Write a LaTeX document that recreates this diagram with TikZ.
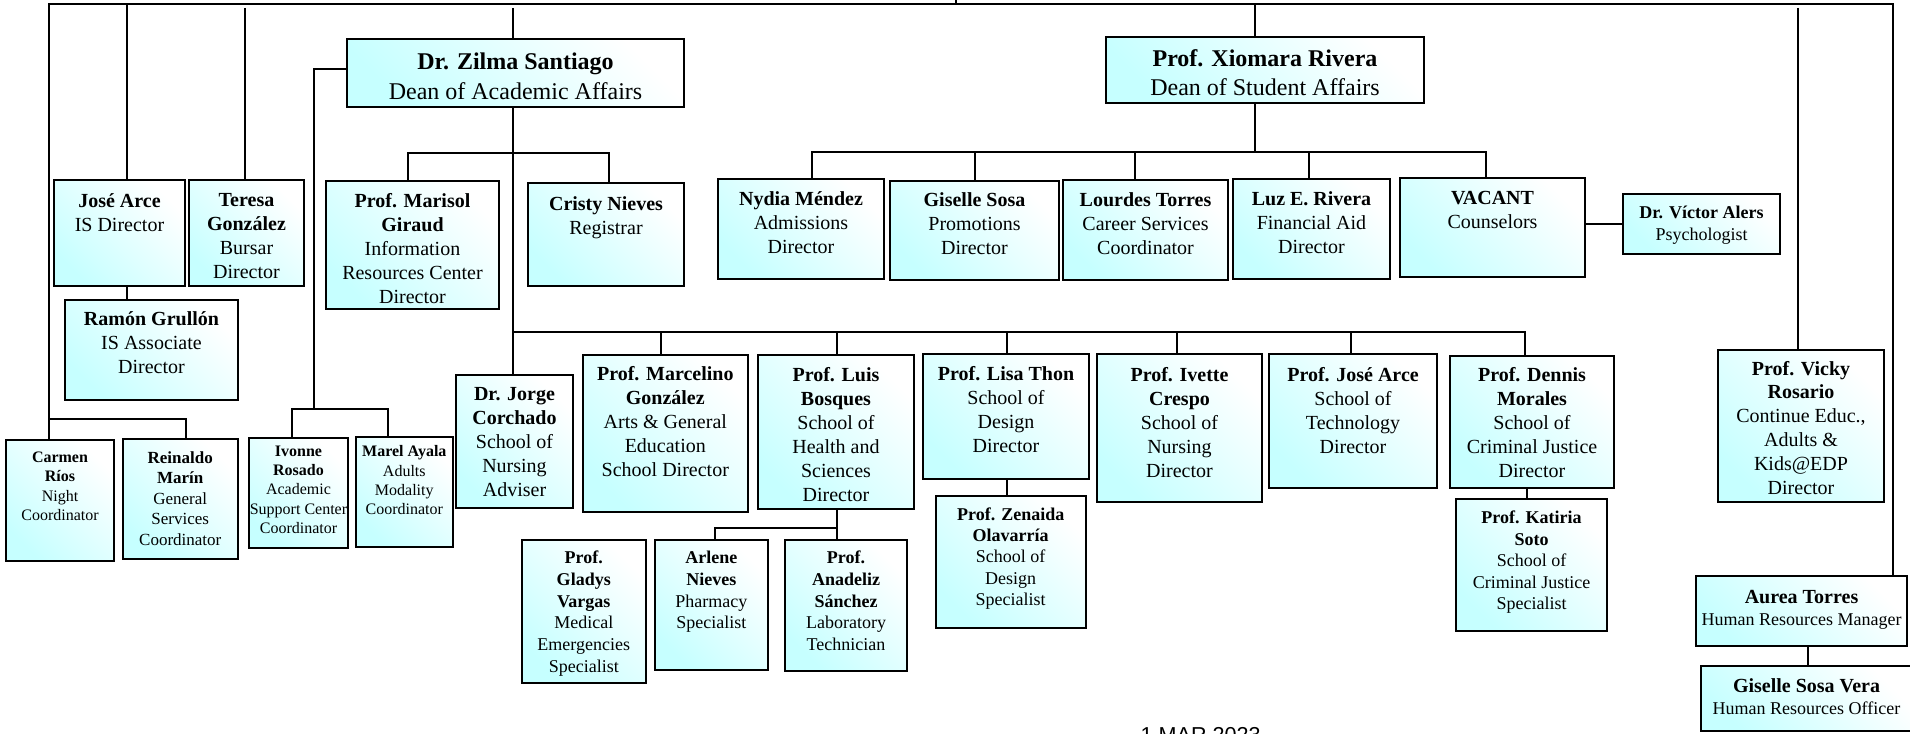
\documentclass[tikz,border=0pt]{standalone}
\usepackage{fontspec}
\setmainfont{Liberation Serif}
\newfontfamily\datefont{Liberation Sans}
\definecolor{boxcyan}{RGB}{198,255,255}
\newcommand{\fs}[2]{\fontsize{#1}{#2}\selectfont}
% width, height, first baseline, text
\newcommand{\orgcell}[4]{\parbox[c][#2][t]{#1}{\centering\lineskiplimit=-20pt\rule{0pt}{#3}#4\par}}

\begin{document}
\begin{tikzpicture}[x=0.5pt, y=-0.5pt,
    wire/.style={line width=0.7pt},
    orgbox/.style={draw, line width=1pt, anchor=north west, inner sep=0pt, outer sep=0pt,
      top color=white, bottom color=boxcyan, shading angle=-45}]
  \useasboundingbox (0,0) rectangle (1910,733);

  % deans
  \node[orgbox] (zilma) at (347,39) {\orgcell{168.5pt}{34pt}{15.5pt}{\fs{12}{14.5}\textbf{Dr. Zilma Santiago}\\Dean of Academic Affairs}};
  \node[orgbox] (xiomara) at (1106,37) {\orgcell{159pt}{33pt}{14.8pt}{\fs{12}{14.5}\textbf{Prof. Xiomara Rivera}\\Dean of Student Affairs}};

  % left side
  \node[orgbox] (josea) at (54,180) {\orgcell{65.5pt}{53pt}{13.5pt}{\fs{10}{12}\textbf{José Arce}\\IS Director}};
  \node[orgbox] (teresa) at (189,180) {\orgcell{57.5pt}{53pt}{13.3pt}{\fs{10}{12}\textbf{Teresa\\González}\\Bursar\\Director}};
  \node[orgbox] (ramon) at (65,300) {\orgcell{86.5pt}{50pt}{12.8pt}{\fs{10}{12}\textbf{Ramón Grullón}\\IS Associate\\Director}};
  \node[orgbox] (carmen) at (6,440) {\orgcell{54pt}{60.5pt}{11.2pt}{\fs{8}{9.7}\textbf{Carmen\\Ríos}\\Night\\Coordinator}};
  \node[orgbox] (reinaldo) at (123,439) {\orgcell{57.25pt}{60pt}{12.2pt}{\fs{8.5}{10.2}\textbf{Reinaldo\\Marín}\\General\\Services\\Coordinator}};
  \node[orgbox] (ivonne) at (249,438) {\orgcell{49.5pt}{55pt}{9pt}{\fs{8}{9.7}\textbf{Ivonne\\Rosado}\\Academic\\Support Center\\Coordinator}};
  \node[orgbox] (marel) at (356,437) {\orgcell{48.3pt}{55pt}{9.8pt}{\fs{8}{9.7}\textbf{Marel Ayala}\\Adults\\Modality\\Coordinator}};

  % academic affairs
  \node[orgbox] (marisol) at (326,181) {\orgcell{86.5pt}{64pt}{13pt}{\fs{10}{12}\textbf{Prof. Marisol\\Giraud}\\Information\\Resources Center\\Director}};
  \node[orgbox] (cristy) at (528,183) {\orgcell{78pt}{51.5pt}{13.5pt}{\fs{10}{12}\textbf{Cristy Nieves}\\Registrar}};
  \node[orgbox] (jorge) at (456,375) {\orgcell{58.5pt}{66.5pt}{12.5pt}{\fs{10}{12}\textbf{Dr. Jorge\\Corchado}\\School of\\Nursing\\Adviser}};
  \node[orgbox] (marcelino) at (582.6,355) {\orgcell{82.7pt}{78.5pt}{12.5pt}{\fs{10}{12}\textbf{Prof. Marcelino\\González}\\Arts \& General\\Education\\School Director}};
  \node[orgbox] (luis) at (758,355) {\orgcell{78pt}{77pt}{13.3pt}{\fs{10}{12}\textbf{Prof. Luis\\Bosques}\\School of\\Health and\\Sciences\\Director}};
  \node[orgbox] (lisa) at (923,354) {\orgcell{83pt}{62.5pt}{13.3pt}{\fs{10}{12}\textbf{Prof. Lisa Thon}\\School of\\Design\\Director}};
  \node[orgbox] (ivette) at (1097,354) {\orgcell{82.5pt}{74pt}{13.8pt}{\fs{10}{12}\textbf{Prof. Ivette\\Crespo}\\School of\\Nursing\\Director}};
  \node[orgbox] (josetech) at (1269,354) {\orgcell{84pt}{67pt}{13.5pt}{\fs{10}{12}\textbf{Prof. José Arce}\\School of\\Technology\\Director}};
  \node[orgbox] (dennis) at (1450,356) {\orgcell{82pt}{66pt}{12.8pt}{\fs{10}{12}\textbf{Prof. Dennis\\Morales}\\School of\\Criminal Justice\\Director}};
  \node[orgbox] (katiria) at (1456,499) {\orgcell{75.5pt}{66pt}{12.2pt}{\fs{9}{10.8}\textbf{Prof. Katiria\\Soto}\\School of\\Criminal Justice\\Specialist}};
  \node[orgbox] (zenaida) at (935.7,496) {\orgcell{75pt}{66pt}{12pt}{\fs{9}{10.7}\textbf{Prof. Zenaida\\Olavarría}\\School of\\Design\\Specialist}};
  \node[orgbox] (gladys) at (522,540) {\orgcell{61.75pt}{71.5pt}{11.7pt}{\fs{9}{10.9}\textbf{Prof.\\Gladys\\Vargas}\\Medical\\Emergencies\\Specialist}};
  \node[orgbox] (arlene) at (654.5,540) {\orgcell{56.75pt}{65pt}{11.7pt}{\fs{9}{10.9}\textbf{Arlene\\Nieves}\\Pharmacy\\Specialist}};
  \node[orgbox] (anadeliz) at (785,540) {\orgcell{61pt}{65.5pt}{11.7pt}{\fs{9}{10.9}\textbf{Prof.\\Anadeliz\\Sánchez}\\Laboratory\\Technician}};

  % student affairs
  \node[orgbox] (nydia) at (718,179) {\orgcell{83pt}{50pt}{13pt}{\fs{10}{12}\textbf{Nydia Méndez}\\Admissions\\Director}};
  \node[orgbox] (gsosa) at (890,181) {\orgcell{84.5pt}{49.5pt}{12.8pt}{\fs{10}{12}\textbf{Giselle Sosa}\\Promotions\\Director}};
  \node[orgbox] (lourdes) at (1063,180) {\orgcell{82.5pt}{50pt}{13pt}{\fs{10}{12}\textbf{Lourdes Torres}\\Career Services\\Coordinator}};
  \node[orgbox] (luz) at (1233,179) {\orgcell{78.5pt}{50pt}{13pt}{\fs{10}{12}\textbf{Luz E. Rivera}\\Financial Aid\\Director}};
  \node[orgbox] (vacant) at (1400,178) {\orgcell{92.5pt}{49.5pt}{13pt}{\fs{10}{12}\textbf{VACANT}\\Counselors}};
  \node[orgbox] (victor) at (1623,194) {\orgcell{78.5pt}{30pt}{12pt}{\fs{9}{11}\textbf{Dr. Víctor Alers}\\Psychologist}};

  % right side
  \node[orgbox] (vicky) at (1718,350) {\orgcell{83pt}{76pt}{12.5pt}{\fs{10}{11.9}\textbf{Prof. Vicky\\Rosario}\\Continue Educ.,\\Adults \&\\Kids@EDP\\Director}};
  \node[orgbox] (aurea) at (1696,576) {\orgcell{105.5pt}{35pt}{13.7pt}{\fs{10}{10.85}\textbf{Aurea Torres}\\\fs{9}{10.85}Human Resources Manager}};
  \node[orgbox] (gsvera) at (1701,666) {\orgcell{105.5pt}{32.5pt}{13.3pt}{\fs{10}{10.85}\textbf{Giselle Sosa Vera}\\\fs{9}{10.85}Human Resources Officer}};

  \node[anchor=base] (date) at (1200.7,742.5) {\datefont\fs{10.8}{13}1 MAR 2023};

  % top bus
  \coordinate (up) at (956,-10);
  \coordinate (busTop) at (956,4);
  \coordinate (busL) at (49,4);
  \coordinate (busR) at (1893,4);
  \draw[wire] (up) -- (busTop);
  \draw[wire] (busL |- carmen.north) -- (busL) -- (busR) -- (busR |- aurea.north);
  \coordinate (dJose) at (127,4);
  \draw[wire] (dJose) -- (dJose |- josea.north);
  \draw[wire] (dJose |- josea.south) -- (dJose |- ramon.north);
  \coordinate (dTeresa) at (245,8);
  \draw[wire] (dTeresa) -- (dTeresa |- teresa.north);
  \coordinate (dZilma) at (513,8);
  \draw[wire] (dZilma) -- (dZilma |- zilma.north);
  \coordinate (dXiomara) at (1255,4);
  \draw[wire] (dXiomara) -- (dXiomara |- xiomara.north);
  \coordinate (dVicky) at (1798,8);
  \draw[wire] (dVicky) -- (dVicky |- vicky.north);

  % left branch
  \coordinate (jCarmen) at (49,419);
  \coordinate (jReinaldo) at (186,419);
  \draw[wire] (jCarmen) -- (jReinaldo) -- (jReinaldo |- reinaldo.north);

  % from dean of academic affairs
  \coordinate (zLeft) at (314,69);
  \coordinate (zLow) at (314,409);
  \coordinate (jIvonne) at (292,409);
  \coordinate (jMarel) at (388,409);
  \draw[wire] (zLeft -| zilma.west) -- (zLeft) -- (zLow);
  \draw[wire] (jIvonne |- ivonne.north) -- (jIvonne) -- (jMarel) -- (jMarel |- marel.north);
  \draw[wire] (dZilma |- zilma.south) -- (dZilma |- jorge.north);
  \coordinate (jMarisol) at (408,153);
  \coordinate (jCristy) at (609,153);
  \draw[wire] (jMarisol |- marisol.north) -- (jMarisol) -- (jCristy) -- (jCristy |- cristy.north);

  % schools
  \coordinate (schL) at (513,332);
  \coordinate (schR) at (1525,332);
  \draw[wire] (schL) -- (schR) -- (schR |- dennis.north);
  \coordinate (dMarcelino) at (661,332);
  \draw[wire] (dMarcelino) -- (dMarcelino |- marcelino.north);
  \coordinate (dLuis) at (837,332);
  \draw[wire] (dLuis) -- (dLuis |- luis.north);
  \coordinate (dLisa) at (1007,332);
  \draw[wire] (dLisa) -- (dLisa |- lisa.north);
  \draw[wire] (dLisa |- lisa.south) -- (dLisa |- zenaida.north);
  \coordinate (dIvette) at (1177,332);
  \draw[wire] (dIvette) -- (dIvette |- ivette.north);
  \coordinate (dJoseTech) at (1351,332);
  \draw[wire] (dJoseTech) -- (dJoseTech |- josetech.north);
  \coordinate (dKatiria) at (1527,499);
  \draw[wire] (dKatiria |- dennis.south) -- (dKatiria |- katiria.north);
  \coordinate (jArlene) at (715,528);
  \coordinate (jAnadeliz) at (837,528);
  \draw[wire] (jAnadeliz |- luis.south) -- (jAnadeliz |- anadeliz.north);
  \draw[wire] (jArlene |- arlene.north) -- (jArlene) -- (jAnadeliz);

  % from dean of student affairs
  \coordinate (stuL) at (812,152);
  \coordinate (stuR) at (1486,152);
  \draw[wire] (dXiomara |- xiomara.south) -- (dXiomara |- stuL);
  \draw[wire] (stuL |- nydia.north) -- (stuL) -- (stuR) -- (stuR |- vacant.north);
  \coordinate (dGsosa) at (975,152);
  \draw[wire] (dGsosa) -- (dGsosa |- gsosa.north);
  \coordinate (dLourdes) at (1135,152);
  \draw[wire] (dLourdes) -- (dLourdes |- lourdes.north);
  \coordinate (dLuz) at (1309,152);
  \draw[wire] (dLuz) -- (dLuz |- luz.north);
  \draw[wire] (victor.west -| vacant.east) -- (victor.west);

  % human resources
  \coordinate (dVera) at (1808,646);
  \draw[wire] (dVera |- aurea.south) -- (dVera |- gsvera.north);
\end{tikzpicture}
\end{document}
